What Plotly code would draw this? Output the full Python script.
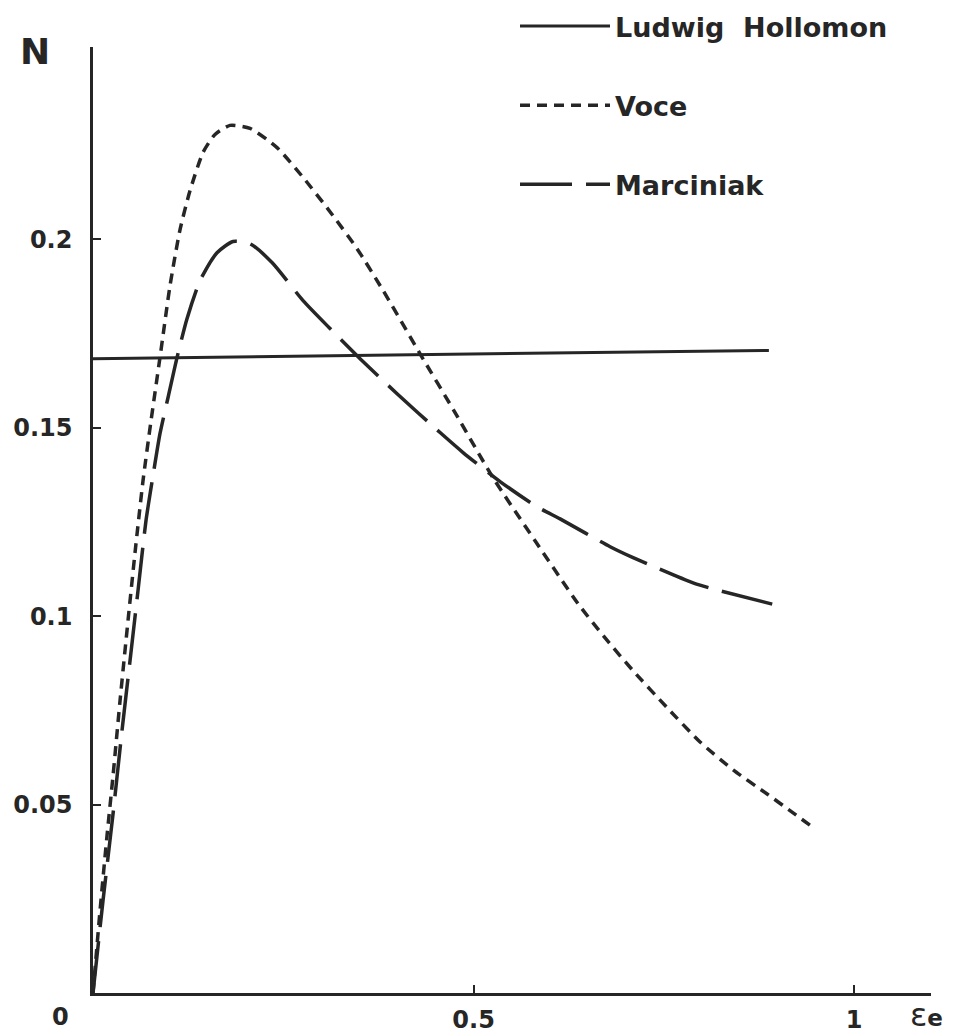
import plotly.graph_objects as go

# ---- data ----
hollomon_x = [0.0, 0.888]
hollomon_y = [0.1683, 0.1705]

voce_x = [0.0, 0.0092, 0.0184, 0.0263, 0.0355, 0.0460, 0.0552, 0.0657, 0.0762, 0.0880,
          0.1012, 0.1143, 0.1275, 0.1445, 0.1603, 0.1800, 0.2063, 0.2418, 0.2760, 0.3114,
          0.3469, 0.3811, 0.4297, 0.4757, 0.5256, 0.5808, 0.6373, 0.6728, 0.7096, 0.7543,
          0.7976, 0.8410, 0.8857, 0.9198, 0.9448]
voce_y = [0.0, 0.0218, 0.0417, 0.0576, 0.0775, 0.0988, 0.1168, 0.1359, 0.1518, 0.1686,
          0.1877, 0.2025, 0.2129, 0.2230, 0.2278, 0.2302, 0.2294, 0.2243, 0.2164, 0.2073,
          0.1975, 0.1864, 0.1696, 0.1540, 0.1367, 0.1200, 0.1033, 0.0942, 0.0855, 0.0757,
          0.0666, 0.0592, 0.0528, 0.0478, 0.0441]

marciniak_x = [0.0, 0.0131, 0.0263, 0.0381, 0.0486, 0.0591, 0.0696, 0.0788, 0.0880, 0.0986,
               0.1104, 0.1235, 0.1406, 0.1629, 0.1840, 0.2063, 0.2352, 0.2760, 0.3114, 0.3509,
               0.3995, 0.4560, 0.4862, 0.5348, 0.5834, 0.6137, 0.6794, 0.7096, 0.7884, 0.8147,
               0.8962]
marciniak_y = [0.0, 0.0244, 0.0475, 0.0696, 0.0881, 0.1067, 0.1253, 0.1372, 0.1484, 0.1580,
               0.1686, 0.1789, 0.1890, 0.1964, 0.1994, 0.1988, 0.1938, 0.1837, 0.1763, 0.1683,
               0.1590, 0.1487, 0.1434, 0.1357, 0.1290, 0.1258, 0.1184, 0.1155, 0.1088, 0.1072,
               0.1030]

series_names = ["Ludwig\u00a0 Hollomon", "Voce", "Marciniak"]
x_tick_vals = [0.5, 1.0]
x_tick_text = ["0.5", "1"]
y_tick_vals = [0.05, 0.1, 0.15, 0.2]
y_tick_text = ["0.05", "0.1", "0.15", "0.2"]

INK = "#262626"
FONT = "DejaVu Sans"

fig = go.Figure()
fig.add_trace(go.Scatter(x=hollomon_x, y=hollomon_y, mode="lines", name=series_names[0],
                         legendgroup="a", line=dict(color=INK, width=3)))
fig.add_trace(go.Scatter(x=voce_x, y=voce_y, mode="lines", name=series_names[1],
                         legendgroup="b",
                         line=dict(color=INK, width=3.5, dash="10px,7px", shape="spline", smoothing=0.6)))
fig.add_trace(go.Scatter(x=marciniak_x, y=marciniak_y, mode="lines", name=series_names[2],
                         legendgroup="c",
                         line=dict(color=INK, width=3.5, dash="52px,14px", shape="spline", smoothing=0.6)))

# page body has a margin: figure is offset in the screenshot
OFF = 8
W, H = 958, 1025
L, R, T, B = 85, 35, 39, 40
pw, ph = W - L - R, H - T - B

def px(sx):
    """screen x -> paper x"""
    return (sx - OFF - L) / pw

def py(sy):
    """screen y -> paper y"""
    return (H - B - (sy - OFF)) / ph

fig.update_layout(
    width=W, height=H,
    margin=dict(l=L, r=R, t=T, b=B, pad=0, autoexpand=False),
    paper_bgcolor="white", plot_bgcolor="white",
    font=dict(family=FONT, color=INK, size=24),
    showlegend=True,
    legend=dict(x=px(515), y=py(2), xanchor="left", yanchor="top",
                bgcolor="rgba(0,0,0,0)", borderwidth=0,
                font=dict(family=FONT, size=27, weight="bold", color=INK),
                itemwidth=90, traceorder="grouped", tracegroupgap=41),
    xaxis=dict(range=[0, 1.101], showgrid=False, zeroline=False, showline=True,
               automargin=False,
               linecolor=INK, linewidth=2.5, ticks="inside", ticklen=8, tickwidth=2,
               tickcolor=INK, tickvals=x_tick_vals, ticktext=x_tick_text,
               tickfont=dict(family=FONT, size=24, weight="bold"), ticklabelstandoff=3),
    yaxis=dict(range=[0, 0.251], showgrid=False, zeroline=False, showline=True,
               automargin=False,
               linecolor=INK, linewidth=2.5, ticks="inside", ticklen=8, tickwidth=2,
               tickcolor=INK, tickvals=y_tick_vals, ticktext=y_tick_text,
               tickfont=dict(family=FONT, size=24, weight="bold"), ticklabelstandoff=13),
)

ann_common = dict(xref="paper", yref="paper", showarrow=False, xanchor="center", yanchor="middle")
fig.add_annotation(text="N", x=px(35), y=py(51),
                   font=dict(family=FONT, size=36, weight="bold", color=INK), **ann_common)
fig.add_annotation(text="0", x=px(60), y=py(1017),
                   font=dict(family=FONT, size=24, weight="bold", color=INK), **ann_common)
fig.add_annotation(text="<span style='font-size:32px;font-weight:normal'>ε</span><b>e</b>",
                   x=px(926), y=py(1015),
                   font=dict(family=FONT, size=23, color=INK), **ann_common)

fig.write_html("out.html")
